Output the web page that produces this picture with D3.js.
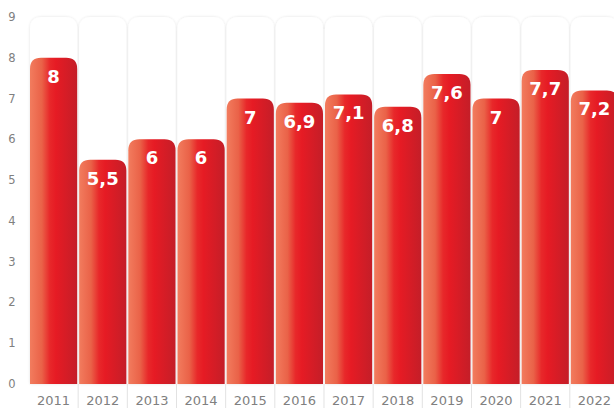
<!DOCTYPE html>
<html>
<head>
<meta charset="utf-8">
<script src="https://cdn.jsdelivr.net/npm/d3@7"></script>
<style>
  body { margin: 0; background: #fff; }
  svg { display: block; }
</style>
</head>
<body>
<div id="chart"></div>
<script>
var years = ["2011","2012","2013","2014","2015","2016","2017","2018","2019","2020","2021","2022"];
var values = [8, 5.5, 6, 6, 7, 6.9, 7.1, 6.8, 7.6, 7, 7.7, 7.2];
var yTicks = [0,1,2,3,4,5,6,7,8,9];

var width = 614, height = 408;
var svg = d3.select('#chart').append('svg').attr('width', width).attr('height', height);

var x = d3.scaleBand().domain(years).range([30, 618]).paddingInner(0.04);
var y = d3.scaleLinear().domain([0, 9]).range([384, 17]);

var defs = svg.append('defs');
var grad = defs.append('linearGradient').attr('id', 'redgrad').attr('x1', '0%').attr('x2', '100%');
grad.append('stop').attr('offset', '0%').attr('stop-color', '#f27c5e');
grad.append('stop').attr('offset', '25%').attr('stop-color', '#ea6248');
grad.append('stop').attr('offset', '42%').attr('stop-color', '#e8282a');
grad.append('stop').attr('offset', '55%').attr('stop-color', '#e61b24');
grad.append('stop').attr('offset', '100%').attr('stop-color', '#c41e28');

var shadow = defs.append('filter').attr('id', 'shadow').attr('x', '-20%').attr('y', '-5%').attr('width', '140%').attr('height', '110%');
shadow.append('feGaussianBlur').attr('in', 'SourceAlpha').attr('stdDeviation', 1.5);
shadow.append('feOffset').attr('dx', 0).attr('dy', 0).attr('result', 'blur');
shadow.append('feComponentTransfer').append('feFuncA').attr('type', 'linear').attr('slope', 0.12);
var merge = shadow.append('feMerge');
merge.append('feMergeNode');
merge.append('feMergeNode').attr('in', 'SourceGraphic');

function topRounded(x0, y0, w, h, r) {
  return 'M' + x0 + ',' + (y0 + h) +
    'V' + (y0 + r) +
    'Q' + x0 + ',' + y0 + ' ' + (x0 + r) + ',' + y0 +
    'H' + (x0 + w - r) +
    'Q' + (x0 + w) + ',' + y0 + ' ' + (x0 + w) + ',' + (y0 + r) +
    'V' + (y0 + h) + 'Z';
}

// white background columns
svg.append('g').selectAll('path')
  .data(years).join('path')
  .attr('d', function(d) { return topRounded(x(d), y(9), x.bandwidth(), y(0) - y(9), 12); })
  .attr('fill', '#fff')
  .attr('filter', 'url(#shadow)');

// separators under axis
svg.append('g').selectAll('line')
  .data(years.slice(1)).join('line')
  .attr('x1', function(d) { return x(d) - 1; })
  .attr('x2', function(d) { return x(d) - 1; })
  .attr('y1', y(0))
  .attr('y2', height)
  .attr('stroke', '#e2e2e2')
  .attr('stroke-width', 1);

// red bars
svg.append('g').selectAll('path')
  .data(values).join('path')
  .attr('d', function(d, i) { return topRounded(x(years[i]), y(d), x.bandwidth(), y(0) - y(d), 11); })
  .attr('fill', 'url(#redgrad)');

// value labels
svg.append('g').selectAll('text')
  .data(values).join('text')
  .attr('x', function(d, i) { return x(years[i]) + x.bandwidth() / 2; })
  .attr('y', function(d) { return y(d) + 25; })
  .attr('text-anchor', 'middle')
  .attr('fill', '#fff')
  .attr('font-family', 'DejaVu Sans, Verdana, sans-serif')
  .attr('font-weight', 'bold')
  .attr('font-size', 18)
  .text(function(d) { return String(d).replace('.', ','); });

// y axis labels
svg.append('g').selectAll('text')
  .data(yTicks).join('text')
  .attr('x', 12)
  .attr('y', function(d) { return y(d) + 4; })
  .attr('text-anchor', 'middle')
  .attr('fill', '#808080')
  .attr('font-family', 'DejaVu Sans, Verdana, sans-serif')
  .attr('font-size', 11.5)
  .text(function(d) { return d; });

// x axis labels
svg.append('g').selectAll('text')
  .data(years).join('text')
  .attr('x', function(d) { return x(d) + x.bandwidth() / 2; })
  .attr('y', 405)
  .attr('text-anchor', 'middle')
  .attr('fill', '#808080')
  .attr('font-family', 'DejaVu Sans, Verdana, sans-serif')
  .attr('font-size', 13)
  .text(function(d) { return d; });
</script>
</body>
</html>
